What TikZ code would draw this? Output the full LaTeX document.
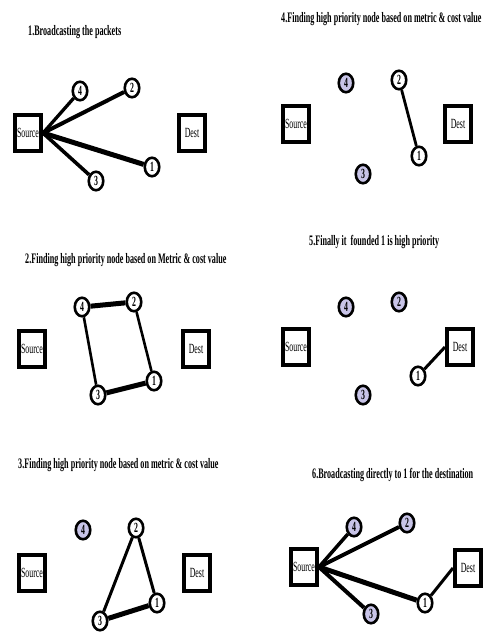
\documentclass[tikz,border=0pt]{standalone}
\usepackage{fontspec}
\setmainfont{Liberation Serif}
\newfontfamily\condfont[FakeStretch=0.56]{Liberation Serif}
\newfontfamily\boxfont[FakeStretch=0.56]{Liberation Serif}
\usetikzlibrary{shapes.geometric}
\definecolor{lav}{RGB}{200,196,232}
\tikzset{
  nd/.style={ellipse, draw, line width=2.6pt, fill=white, minimum width=14.5pt, minimum height=18.5pt, inner sep=0pt, font=\boxfont\bfseries\fontsize{14}{14}\selectfont},
  nf/.style={nd, fill=lav},
  bx/.style={rectangle, draw, line width=3.8pt, fill=white, minimum width=26.2pt, minimum height=36.2pt, inner sep=0pt, font=\boxfont\fontsize{14}{14}\selectfont},
  ttl/.style={anchor=west, inner sep=0pt, font=\condfont\bfseries\fontsize{14.5}{14.5}\selectfont},
  lk/.style={line width=#1},
}
\begin{document}
\begin{tikzpicture}[x=1pt,y=-1pt]
\path[use as bounding box, fill=white] (0,0) rectangle (483,638);

% ---------- Panel 1 ----------
\node[ttl] (t1) at (28,32) {1.Broadcasting the packets};
\node[bx] (as) at (28,133) {Source};
\node[bx] (ad) at (192,133) {Dest};
\node[nd] (a4) at (80,91) {4};
\node[nd] (a2) at (132,88) {2};
\node[nd] (a1) at (152,167) {1};
\node[nd] (a3) at (96,181) {3};
\draw[lk=3.3pt] (as.east) -- (a4);
\draw[lk=4pt] (as.east) -- (a2);
\draw[lk=5pt] (as.east) -- (a1);
\draw[lk=3.6pt] (as.east) -- (a3);

% ---------- Panel 2 ----------
\node[ttl] (t2) at (25,260) {2.Finding high priority node based on Metric \& cost value};
\node[bx] (bs) at (32,349) {Source};
\node[bx] (bd) at (196,349) {Dest};
\node[nd] (b4) at (82,307) {4};
\node[nd] (b2) at (134,302) {2};
\node[nd] (b1) at (154,381) {1};
\node[nd] (b3) at (98,395) {3};
\draw[lk=5pt] (b4) -- (b2);
\draw[lk=2.6pt] (b4) -- (b3);
\draw[lk=2.6pt] (b2) -- (b1);
\draw[lk=5pt] (b3) -- (b1);

% ---------- Panel 3 ----------
\node[ttl] (t3) at (18,465) {3.Finding high priority node based on metric \& cost value};
\node[bx] (cs) at (32,573) {Source};
\node[bx] (cd) at (197,573) {Dest};
\node[nf] (c4) at (83,530) {4};
\node[nd] (c2) at (136,528) {2};
\node[nd] (c1) at (157,603) {1};
\node[nd] (c3) at (100,621) {3};
\draw[lk=3pt] (c2) -- (c3);
\draw[lk=3pt] (c2) -- (c1);
\draw[lk=5pt] (c3) -- (c1);

% ---------- Panel 4 ----------
\node[ttl] (t4) at (281,19) {4.Finding high priority node based on metric \& cost value};
\node[bx] (ds) at (296,124) {Source};
\node[bx] (dd) at (458,124) {Dest};
\node[nf] (d4) at (346,83) {4};
\node[nd] (d2) at (399,80) {2};
\node[nd] (d1) at (419,156) {1};
\node[nf] (d3) at (363,174) {3};
\draw[lk=2.8pt] (d2) -- (d1);

% ---------- Panel 5 ----------
\node[ttl] (t5) at (309,242) {5.Finally it~ founded 1 is high priority};
\node[bx] (es) at (296,347) {Source};
\node[bx] (ed) at (460,347) {Dest};
\node[nf] (e4) at (346,307) {4};
\node[nf] (e2) at (399,302) {2};
\node[nd] (e1) at (418,376) {1};
\node[nf] (e3) at (363,395) {3};
\draw[lk=3pt] (e1) -- (ed.west);

% ---------- Panel 6 ----------
\node[ttl] (t6) at (312,475) {6.Broadcasting directly to 1 for the destination};
\node[bx] (fs) at (304,567) {Source};
\node[bx] (fd) at (468,568) {Dest};
\node[nf] (f4) at (354,527) {4};
\node[nf] (f2) at (407,523) {2};
\node[nd] (f1) at (425,603) {1};
\node[nf] (f3) at (371,614) {3};
\draw[lk=3.5pt] (fs.east) -- (f4);
\draw[lk=4pt] (fs.east) -- (f2);
\draw[lk=5pt] (fs.east) -- (f1);
\draw[lk=4pt] (fs.east) -- (f3);
\draw[lk=3pt] (f1) -- (fd.west);
\end{tikzpicture}
\end{document}
